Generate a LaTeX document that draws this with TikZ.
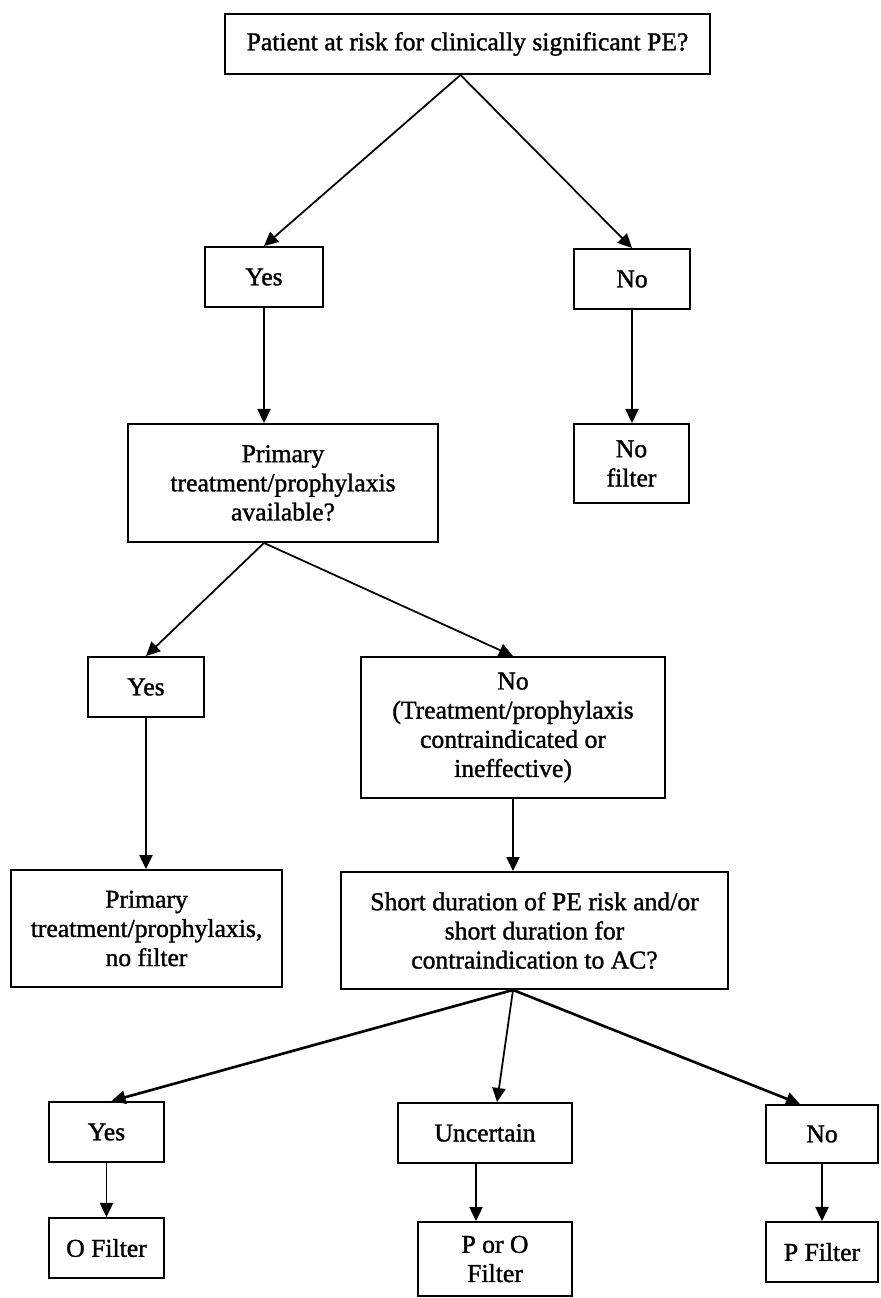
\documentclass[tikz,border=0pt]{standalone}
\usepackage{fontspec}
\setmainfont{Liberation Serif}[BoldFont={Liberation Serif},BoldFeatures={FakeBold=1.3}]
\usetikzlibrary{calc,arrows.meta}

\begin{document}
\begin{tikzpicture}[x=0.02cm,y=-0.02cm,
    flow/.style={draw,line width=1.1pt,inner sep=0pt,align=center,
      font=\fontsize{14.6}{16.6}\selectfont\bfseries},
    arr/.style={line width=1pt,-{Triangle[length=8pt,width=7.5pt]}},
    thickarr/.style={arr,line width=1.5pt}]
    \useasboundingbox (0,0) rectangle (880,1298);

    \node[flow,minimum width=9.7cm,minimum height=1.2cm](top)at(467.5,44)
      {Patient at risk for clinically significant PE?};
    \node[flow,minimum width=2.36cm,minimum height=1.2cm](yes1)at(264,277){Yes};
    \node[flow,minimum width=2.32cm,minimum height=1.2cm](no1)at(632,279){No};
    \node[flow,minimum width=6.2cm,minimum height=2.36cm](prim)at(283,483)
      {Primary\\treatment/prophylaxis\\available?};
    \node[flow,minimum width=2.3cm,minimum height=1.58cm](nofilt)at(631.5,463.5)
      {No\\filter};
    \node[flow,minimum width=2.32cm,minimum height=1.2cm](yes2)at(146,687){Yes};
    \node[flow,minimum width=6.08cm,minimum height=2.82cm](no2)at(513,727.5)
      {No\\(Treatment/prophylaxis\\contraindicated or\\ineffective)};
    \node[flow,minimum width=5.42cm,minimum height=2.34cm](prim2)at(146.5,928.5)
      {Primary\\treatment/prophylaxis,\\no filter};
    \node[flow,minimum width=7.74cm,minimum height=2.34cm](short)at(534.5,930.5)
      {Short duration of PE risk and/or\\short duration for\\contraindication to AC?};
    \node[flow,minimum width=2.3cm,minimum height=1.2cm](yes3)at(106.5,1132){Yes};
    \node[flow,minimum width=3.48cm,minimum height=1.2cm](unc)at(485,1133){Uncertain};
    \node[flow,minimum width=2.24cm,minimum height=1.16cm](no3)at(822,1134){No};
    \node[flow,minimum width=2.3cm,minimum height=1.2cm](ofilt)at(106.5,1248){O Filter};
    \node[flow,minimum width=3.08cm,minimum height=1.48cm](poro)at(495,1259)
      {P or O\\Filter};
    \node[flow,minimum width=2.24cm,minimum height=1.2cm](pfilt)at(822,1252){P Filter};

    \coordinate(a1)at($(top.south)+(-7,0)$);
    \coordinate(a2)at(yes1.south |- prim.south);
    \coordinate(a3)at(no2.south |- short.south);
    \coordinate(u1)at($(unc.south)+(-9,0)$);

    \draw[arr](a1)--(yes1.north);
    \draw[arr](a1)--(no1.north);
    \draw[arr](yes1.south)--(yes1.south |- prim.north);
    \draw[arr](no1.south)--(no1.south |- nofilt.north);
    \draw[arr](a2)--(yes2.north);
    \draw[arr](a2)--(no2.north);
    \draw[arr](yes2.south)--(yes2.south |- prim2.north);
    \draw[arr](no2.south)--(no2.south |- short.north);
    \draw[thickarr](a3)--($(yes3.north)+(5,0)$);
    \draw[arr](a3)--($(unc.north)+(12,0)$);
    \draw[thickarr](a3)--($(no3.north)+(-22,0)$);
    \draw[arr](yes3.south)--(yes3.south |- ofilt.north);
    \draw[arr](u1)--(u1 |- poro.north);
    \draw[arr](no3.south)--(no3.south |- pfilt.north);
  \end{tikzpicture}
\end{document}
